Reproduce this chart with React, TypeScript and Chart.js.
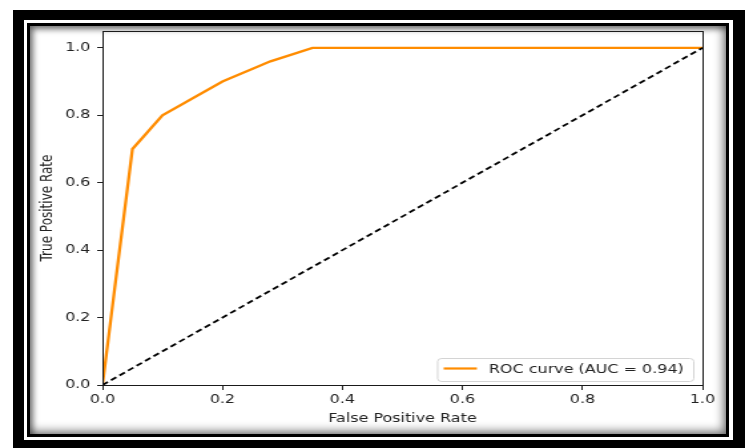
import React, { useEffect, useRef } from 'react';
import { Chart, registerables } from 'chart.js';

Chart.register(...registerables);

// ---- data ----
const fpr = [0, 0.05, 0.1, 0.2, 0.28, 0.35, 1.0];
const tpr = [0, 0.7, 0.8, 0.9, 0.96, 1.0, 1.0];
const diagX = [0, 1];
const diagY = [0, 1];
const xTicks = [0, 0.2, 0.4, 0.6, 0.8, 1.0];
const yTicks = [0, 0.2, 0.4, 0.6, 0.8, 1.0];
const legendLabel = 'ROC curve (AUC = 0.94)';
const xTitle = 'False Positive Rate';
const yTitle = 'True Positive Rate';

const LOGICAL_W = 560;
const H = 448;
const SX = 745 / LOGICAL_W;
const FONT = "'DejaVu Sans', 'Liberation Sans', sans-serif";
const TEXT = '#222';

const framePlugin = {
  id: 'framePlugin',
  afterDatasetsDraw(chart: any) {
    const { ctx, chartArea: a } = chart;
    ctx.save();
    ctx.strokeStyle = '#1a1a1a';
    ctx.lineWidth = 1;
    ctx.strokeRect(Math.round(a.left) + 0.5, Math.round(a.top) + 0.5, Math.round(a.right - a.left), Math.round(a.bottom - a.top));
    ctx.restore();
  },
  afterDraw(chart: any) {
    const { ctx, chartArea: a } = chart;
    ctx.save();
    ctx.font = `12px ${FONT}`;
    const tw = ctx.measureText(legendLabel).width;
    const h = 23;
    const w = 5 + 25 + 9 + tw + 7;
    const right = a.right - 7;
    const bottom = a.bottom - 4;
    const left = right - w;
    const top = bottom - h;
    ctx.beginPath();
    (ctx as any).roundRect(left + 0.5, top + 0.5, w, h, 3);
    ctx.fillStyle = 'rgba(255,255,255,0.8)';
    ctx.fill();
    ctx.strokeStyle = '#d4d4d4';
    ctx.lineWidth = 1;
    ctx.stroke();
    ctx.beginPath();
    ctx.moveTo(left + 5, top + h / 2 - 1);
    ctx.lineTo(left + 30, top + h / 2 - 1);
    ctx.strokeStyle = '#ff8c00';
    ctx.lineWidth = 2.2;
    ctx.stroke();
    ctx.fillStyle = TEXT;
    ctx.textBaseline = 'middle';
    ctx.textAlign = 'left';
    ctx.fillText(legendLabel, left + 39, top + h / 2);
    ctx.restore();
  },
};

export default function App() {
  const ref = useRef<HTMLCanvasElement>(null);

  useEffect(() => {
    if (!ref.current) return;
    const font = { family: FONT, size: 12 };
    const chart = new Chart(ref.current, {
      type: 'scatter',
      data: {
        datasets: [
          {
            label: 'diag',
            data: diagX.map((x, i) => ({ x, y: diagY[i] })),
            showLine: true,
            borderColor: '#000',
            borderWidth: 1.8,
            borderDash: [5, 3],
            pointRadius: 0,
            fill: false,
          },
          {
            label: legendLabel,
            data: fpr.map((x, i) => ({ x, y: tpr[i] })),
            showLine: true,
            borderColor: '#ff8c00',
            borderWidth: 2.3,
            pointRadius: 0,
            fill: false,
            tension: 0,
          },
        ],
      },
      options: {
        animation: false,
        responsive: false,
        devicePixelRatio: 1,
        layout: { padding: { left: 0, top: 31, right: 32, bottom: 0 } },
        plugins: { legend: { display: false }, tooltip: { enabled: false }, title: { display: false } },
        scales: {
          x: {
            type: 'linear',
            min: 0,
            max: 1,
            afterFit: (s: any) => { s.height = 63; },
            afterBuildTicks: (s: any) => { s.ticks = xTicks.map((v) => ({ value: v })); },
            ticks: { callback: (v: any) => Number(v).toFixed(1), font, color: TEXT, padding: 3, maxRotation: 0, autoSkip: false },
            grid: { drawOnChartArea: false, drawTicks: true, tickLength: 5, color: '#222', lineWidth: 1 },
            border: { display: false },
            title: { display: true, text: xTitle, font, color: TEXT, padding: { top: 0, bottom: 22 } },
          },
          y: {
            type: 'linear',
            min: 0,
            max: 1.05,
            afterFit: (s: any) => { s.width = 77; },
            afterBuildTicks: (s: any) => { s.ticks = yTicks.map((v) => ({ value: v })); },
            ticks: { callback: (v: any) => Number(v).toFixed(1), font, color: TEXT, padding: 5, autoSkip: false },
            grid: { drawOnChartArea: false, drawTicks: true, tickLength: 4, color: '#222', lineWidth: 1 },
            border: { display: false },
            title: { display: true, text: yTitle, font, color: TEXT, padding: { top: 29, bottom: 0 } },
          },
        },
      } as any,
      plugins: [framePlugin],
    });
    return () => chart.destroy();
  }, []);

  return (
    <div style={{ position: 'fixed', left: 0, top: 0, width: 745, height: 448, overflow: 'hidden', background: '#fff' }}>
      <div style={{ position: 'absolute', left: 13, top: 10, width: 745, height: 448, background: '#000' }} />
      <div style={{ position: 'absolute', left: 24, top: 20, width: 709, height: 420, background: '#fff' }} />
      <div style={{ position: 'absolute', left: 27, top: 23, width: 702, height: 414, background: '#000' }} />
      <div
        style={{
          position: 'absolute',
          left: 30,
          top: 26,
          width: 696,
          height: 408,
          background: '#fff',
          boxShadow: 'inset -3px -3px 10px rgba(0,0,0,0.5), inset 3px 3px 6px rgba(0,0,0,0.5)',
        }}
      />
      <div style={{ position: 'absolute', left: 0, top: 0, width: LOGICAL_W, height: H, transform: `scaleX(${SX})`, transformOrigin: '0 0' }}>
        <canvas ref={ref} width={LOGICAL_W} height={H} style={{ display: 'block' }} />
      </div>
    </div>
  );
}
